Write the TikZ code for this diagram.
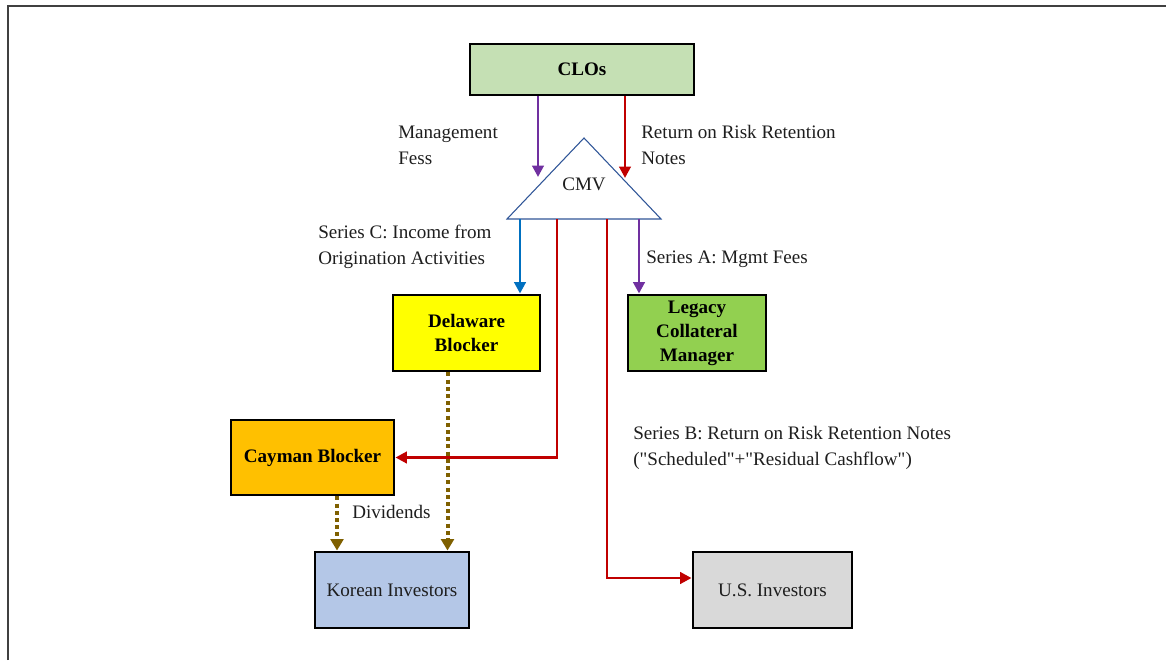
\documentclass[tikz,border=0pt]{standalone}
\usepackage{fontspec}
\setmainfont{Liberation Serif}
\usetikzlibrary{arrows.meta}
\definecolor{cloGreen}{HTML}{C5E0B4}
\definecolor{delYellow}{HTML}{FFFF00}
\definecolor{legGreen}{HTML}{92D050}
\definecolor{cayOrange}{HTML}{FFC000}
\definecolor{korBlue}{HTML}{B4C7E7}
\definecolor{usGray}{HTML}{D9D9D9}
\definecolor{flowPurple}{HTML}{7030A0}
\definecolor{flowRed}{HTML}{C00000}
\definecolor{flowBlue}{HTML}{0070C0}
\definecolor{flowBrown}{HTML}{7F6000}
\definecolor{triBlue}{HTML}{2F5597}
\definecolor{textGray}{HTML}{1E1E1E}
\begin{document}
\begin{tikzpicture}[x=0.75pt,y=-0.75pt,
  every node/.style={font=\fontsize{14.3}{19.5}\selectfont, text=textGray},
  entity/.style={draw=black, line width=2.2pt, align=center, inner sep=0pt,
    font=\fontsize{14.3}{18}\selectfont\bfseries, text=black},
  plainbox/.style={draw=black, line width=2.2pt, align=center, inner sep=0pt},
  lbl/.style={inner sep=0pt, align=left, anchor=west},
  flow/.style={line width=2.1pt, -{Triangle[length=8.5pt,width=8.5pt]}},
  divflow/.style={line width=3pt, flowBrown, dash pattern=on 3pt off 2.4pt,
    -{Triangle[length=8.5pt,width=9.5pt]}}
]
\useasboundingbox (0,0) rectangle (1166,660);
% frame
\draw[line width=1.6pt, black!75] (8,660) -- (8,6) -- (1166,6);

% nodes
\node[entity, fill=cloGreen, minimum width=168pt, minimum height=38.25pt] (clo) at (582,69.5) {CLOs};
\node[entity, fill=delYellow, minimum width=110.25pt, minimum height=57pt] (del) at (466.5,333) {Delaware\\Blocker};
\node[entity, fill=legGreen, minimum width=103.5pt, minimum height=57pt] (leg) at (697,333) {Legacy\\Collateral\\Manager};
\node[entity, fill=cayOrange, minimum width=122.25pt, minimum height=56.25pt] (cay) at (312.5,457.5) {Cayman Blocker};
\node[plainbox, fill=korBlue, minimum width=115.5pt, minimum height=57pt] (kor) at (392,590) {Korean Investors};
\node[plainbox, fill=usGray, minimum width=119.25pt, minimum height=57pt] (us) at (772.5,590) {U.S. Investors};

% CMV triangle
\coordinate (triL) at (507,219);
\coordinate (triA) at (584,138);
\coordinate (triR) at (661,219);
\draw[triBlue, line width=0.8pt] (triL) -- (triA) -- (triR) -- cycle;
\node (cmv) at (584,184) {CMV};

% labels
\node[lbl] (lmf) at (398,145) {Management\\Fess};
\node[lbl] (lrr) at (641,145) {Return on Risk Retention\\Notes};
\node[lbl] (lsc) at (318,246.5) {Series C: Income from\\Origination Activities};
\node[lbl] (lsa) at (646,259) {Series A: Mgmt Fees};
\node[lbl] (lsb) at (633,447.5) {Series B: Return on Risk Retention Notes\\(\textquotedbl Scheduled\textquotedbl +\textquotedbl Residual Cashflow\textquotedbl )};
\node[lbl] (ldiv) at (352,512) {Dividends};

% connector coordinates
\coordinate (mfEnd) at (538,177);
\coordinate (rrEnd) at (625,178);
\coordinate (scStart) at (520,219);
\coordinate (cayStart) at (557,219);
\coordinate (usStart) at (607,219);
\coordinate (usTurn) at (607,578);
\coordinate (saStart) at (639,219);
\coordinate (dvA) at (337,0);
\coordinate (dvB) at (447.5,0);

% connectors
\draw[flow, flowPurple] (clo.south -| mfEnd) -- (mfEnd);
\draw[flow, flowRed] (clo.south -| rrEnd) -- (rrEnd);
\draw[flow, flowBlue] (scStart) -- (scStart |- del.north);
\draw[flow, flowPurple] (saStart) -- (saStart |- leg.north);
\draw[flow, flowRed] (cayStart) -- (cayStart |- cay.east) -- (cay.east);
\draw[flow, flowRed] (usStart) -- (usTurn) -- (usTurn -| us.west);
\draw[divflow] (cay.south -| dvA) -- (kor.north -| dvA);
\draw[divflow] (del.south -| dvB) -- (kor.north -| dvB);
\end{tikzpicture}
\end{document}
